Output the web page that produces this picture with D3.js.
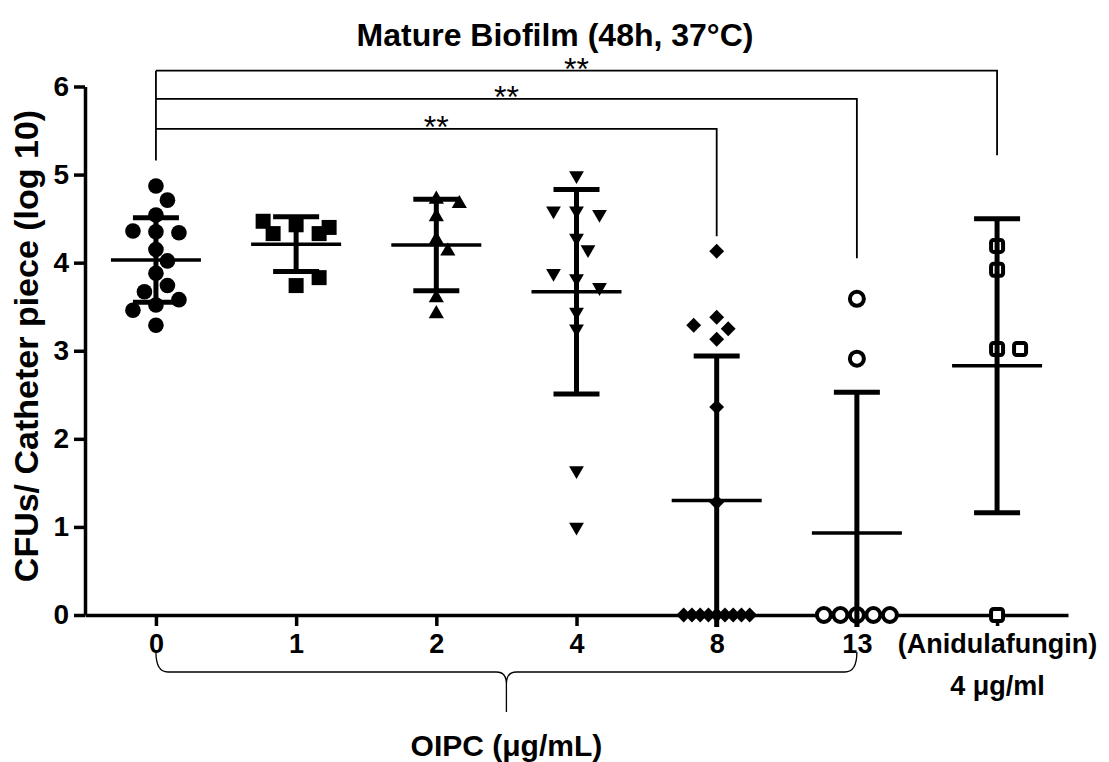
<!DOCTYPE html>
<html>
<head>
<meta charset="utf-8">
<script src="https://cdn.jsdelivr.net/npm/d3@7/dist/d3.min.js"></script>
<style>
  body { margin: 0; background: #fff; }
  text { font-family: "Liberation Sans", Arial, Helvetica, sans-serif; fill: #000; }
</style>
</head>
<body>
<div id="chart"></div>
<script>
// DATA (log10 CFUs per catheter piece)
const categories = ["0", "1", "2", "4", "8", "13", "(Anidulafungin)"];
const subLabels = ["", "", "", "", "", "", "4 μg/ml"];
const yTicks = [0, 1, 2, 3, 4, 5, 6];

const oipc0 = [4.87, 4.71, 4.54, 4.35, 4.34, 4.36, 4.15, 4.02, 3.88, 3.74, 3.67, 3.52, 3.58, 3.46, 3.29];
const oipc1 = [4.43, 4.33, 4.33, 4.40, 4.47, 3.74, 3.83];
const oipc2 = [4.72, 4.67, 4.52, 4.26, 4.13, 3.60, 3.42];
const oipc4 = [4.99, 4.59, 4.55, 4.59, 4.28, 4.15, 3.82, 3.72, 3.88, 3.44, 3.25, 1.64, 1.00];
const oipc8 = [4.13, 3.38, 3.25, 3.29, 3.13, 2.36, 1.28, 0, 0, 0, 0, 0, 0, 0, 0, 0];
const oipc13 = [3.59, 2.91, 0, 0, 0, 0, 0];
const anidula = [4.19, 3.92, 3.02, 3.02, 0];

const groupValues = [oipc0, oipc1, oipc2, oipc4, oipc8, oipc13, anidula];
const means = [4.03, 4.21, 4.20, 3.67, 1.30, 0.93, 2.83];
const sds = [0.48, 0.31, 0.52, 1.16, 1.64, 1.60, 1.67];

// significance brackets: control vs group
const compFrom = ["0", "0", "0"];
const compTo = ["8", "13", "(Anidulafungin)"];
const compLevel = [5.52, 5.86, 6.18];
const compLegEnd = [4.30, 4.05, 5.22];
const compLabel = ["**", "**", "**"];

// MARGINS / SIZE
const width = 1109, height = 762;
const plot = { left: 85, right: 1068, top: 86.5, bottom: 615 };

const svg = d3.select("#chart").append("svg")
  .attr("width", width)
  .attr("height", height);

// scales
const x = d3.scalePoint()
  .domain(categories)
  .range([plot.left, plot.right])
  .padding(0.506);

const y = d3.scaleLinear()
  .domain([0, 6])
  .range([plot.bottom, plot.top]);

// symbol per group
const markers = [
  { type: "circle", fill: true },
  { type: "square", fill: true },
  { type: "triangle", fill: true },
  { type: "triangleDown", fill: true },
  { type: "diamond", fill: true },
  { type: "circle", fill: false },
  { type: "square", fill: false }
];

// simple beeswarm so points with close values spread sideways
function swarm(vals, step, minDist, maxHalf) {
  const placed = [];
  vals.forEach(v => {
    const py = y(v);
    for (let k = 0; k < 40; k++) {
      const cands = k === 0 ? [0] : [k * step, -k * step];
      const dx = cands.find(c => placed.every(p => Math.hypot(p.dx - c, p.py - py) >= minDist));
      if (dx !== undefined) { placed.push({ v, dx, py }); return; }
    }
  });
  // squeeze rows of identical values that run too wide
  d3.groups(placed, p => p.v).forEach(([, row]) => {
    const ext = d3.max(row, p => Math.abs(p.dx));
    if (ext > maxHalf) row.forEach(p => { p.dx = p.dx * maxHalf / ext; });
  });
  return placed;
}

// AXES
const yAxis = d3.axisLeft(y).tickValues(yTicks).tickFormat(d3.format("d"))
  .tickSize(11).tickSizeOuter(0).tickPadding(5);
const yG = svg.append("g")
  .attr("transform", `translate(${plot.left},0)`)
  .call(yAxis);
yG.select(".domain").attr("stroke-width", 3.5);
yG.selectAll(".tick line").attr("stroke-width", 3.5);
yG.selectAll(".tick text")
  .style("font-size", "28px")
  .style("font-weight", "bold");

const xAxis = d3.axisBottom(x).tickSize(11).tickSizeOuter(0).tickPadding(8);
const xG = svg.append("g")
  .attr("transform", `translate(0,${plot.bottom})`)
  .call(xAxis);
xG.select(".domain").attr("stroke-width", 3.5);
xG.selectAll(".tick line").attr("stroke-width", 3.5);
xG.selectAll(".tick text")
  .style("font-size", "27px")
  .style("font-weight", "bold")
  .each(function(d, i) {
    if (subLabels[i]) {
      d3.select(this).append("tspan")
        .attr("x", 0)
        .attr("dy", "1.55em")
        .text(subLabels[i]);
    }
  });

// POINTS
groupValues.forEach((vals, gi) => {
  const cx = x(categories[gi]);
  const m = markers[gi];
  const pts = swarm(vals, m.type === "circle" && !m.fill ? 9 : 11.5, m.fill ? 15.5 : 18, 33);
  const g = svg.append("g").attr("class", "group-" + gi);
  pts.forEach(p => {
    const px = cx + p.dx, py = p.py;
    if (m.type === "circle") {
      g.append("circle")
        .attr("cx", px).attr("cy", py)
        .attr("r", m.fill ? 7.8 : 7)
        .attr("fill", m.fill ? "#000" : "#fff")
        .attr("stroke", "#000")
        .attr("stroke-width", m.fill ? 0 : 4);
    } else if (m.type === "square" && !m.fill) {
      g.append("rect")
        .attr("x", px - 6).attr("y", py - 6)
        .attr("width", 12).attr("height", 12)
        .attr("rx", 2.5)
        .attr("fill", "#fff")
        .attr("stroke", "#000")
        .attr("stroke-width", 4);
    } else {
      let sym, rot = 0, size;
      if (m.type === "square") { sym = d3.symbolSquare; size = 15 * 15; }
      else if (m.type === "triangle") { sym = d3.symbolTriangle; size = 100; }
      else if (m.type === "triangleDown") { sym = d3.symbolTriangle; size = 95; rot = 180; }
      else { sym = d3.symbolSquare; size = 10.5 * 10.5; rot = 45; }
      g.append("path")
        .attr("d", d3.symbol(sym, size)())
        .attr("transform", `translate(${px},${py}) rotate(${rot})`)
        .attr("fill", "#000");
    }
  });
});

// MEAN +/- SD
const bars = svg.append("g").attr("class", "errorbars");
categories.forEach((c, i) => {
  const cx = x(c);
  const top = means[i] + sds[i];
  const low = means[i] - sds[i];
  const lowY = low < 0 ? plot.bottom + 12 : y(low);
  bars.append("line")
    .attr("x1", cx).attr("x2", cx)
    .attr("y1", y(top)).attr("y2", lowY)
    .attr("stroke", "#000").attr("stroke-width", 5);
  bars.append("line")
    .attr("x1", cx - 23).attr("x2", cx + 23)
    .attr("y1", y(top)).attr("y2", y(top))
    .attr("stroke", "#000").attr("stroke-width", 5);
  if (low >= 0) {
    bars.append("line")
      .attr("x1", cx - 23).attr("x2", cx + 23)
      .attr("y1", y(low)).attr("y2", y(low))
      .attr("stroke", "#000").attr("stroke-width", 5);
  }
  bars.append("line")
    .attr("x1", cx - 45).attr("x2", cx + 45)
    .attr("y1", y(means[i])).attr("y2", y(means[i]))
    .attr("stroke", "#000").attr("stroke-width", 3.5);
});

// SIGNIFICANCE BRACKETS
const brackets = svg.append("g").attr("class", "brackets");
brackets.append("line")
  .attr("x1", x("0")).attr("x2", x("0"))
  .attr("y1", y(d3.max(compLevel))).attr("y2", y(5.16))
  .attr("stroke", "#000").attr("stroke-width", 1.8);
compTo.forEach((to, i) => {
  const x0 = x(compFrom[i]), x1 = x(to);
  brackets.append("path")
    .attr("d", `M${x0},${y(compLevel[i])}H${x1}V${y(compLegEnd[i])}`)
    .attr("fill", "none")
    .attr("stroke", "#000").attr("stroke-width", 1.8);
  brackets.append("text")
    .attr("x", (x0 + x1) / 2)
    .attr("y", y(compLevel[i]) + 9)
    .attr("text-anchor", "middle")
    .style("font-size", "32px")
    .text(compLabel[i]);
});

// brace under OIPC doses
const bx0 = x("0"), bx1 = x("13"), bmid = (bx0 + bx1) / 2;
svg.append("path")
  .attr("d", `M${bx0},652 Q${bx0},672 ${bx0 + 12},672 H${bmid - 10} Q${bmid},672 ${bmid},684 V712
              M${bx1},652 Q${bx1},672 ${bx1 - 12},672 H${bmid + 10} Q${bmid},672 ${bmid},684`)
  .attr("fill", "none")
  .attr("stroke", "#000")
  .attr("stroke-width", 1.3);

// LABELS
svg.append("text")
  .attr("x", 555).attr("y", 46)
  .attr("text-anchor", "middle")
  .style("font-size", "32px")
  .style("font-weight", "bold")
  .text("Mature Biofilm (48h, 37°C)");

svg.append("text")
  .attr("transform", "rotate(-90)")
  .attr("x", -346).attr("y", 38)
  .attr("text-anchor", "middle")
  .style("font-size", "34px")
  .style("font-weight", "bold")
  .text("CFUs/ Catheter piece (log 10)");

svg.append("text")
  .attr("x", bmid).attr("y", 756)
  .attr("text-anchor", "middle")
  .style("font-size", "30px")
  .style("font-weight", "bold")
  .text("OIPC (μg/mL)");
</script>
</body>
</html>
